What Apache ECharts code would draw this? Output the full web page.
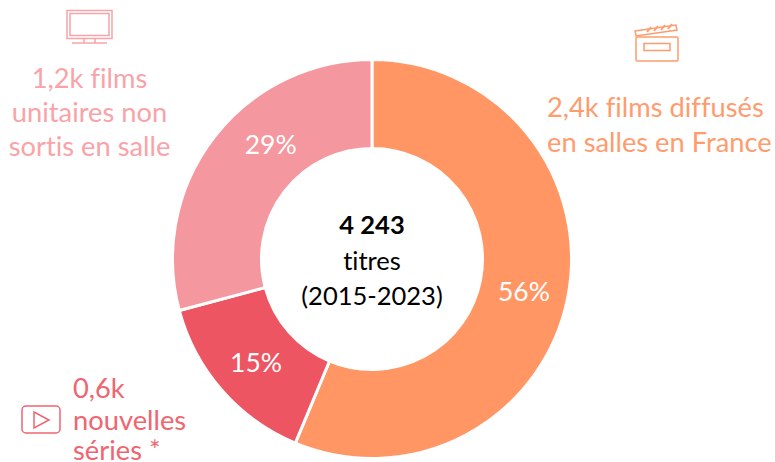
<!DOCTYPE html>
<html><head><meta charset="utf-8">
<script src="https://cdn.jsdelivr.net/npm/echarts@6/dist/echarts.min.js"></script>
<style>html,body{margin:0;padding:0;background:#fff}#c{width:775px;height:462px}#c text{font-variant-ligatures:none !important}</style></head>
<body><div id="c"></div>
<script>
const categories = ['films diffusés en salles en France', 'nouvelles séries', 'films unitaires non sortis en salle'];
const titles = [2388, 618, 1237];
const colors = ['#FF9664', '#EC5561', '#F4979E'];
const labelOffsets = [[-3, 1], [3, -1], [24, -19]];
const FONT = 'Lato, "Open Sans", sans-serif';
const chart = echarts.init(document.getElementById('c'), null, {renderer: 'svg'});

function txt(x, y, text, fill, size, extra) {
  return {type: 'text', x, y, silent: true, style: Object.assign({text, fill, font: `${size}px ${FONT}`, textAlign: 'center', textVerticalAlign: 'middle'}, extra || {})};
}
function rect(x, y, w, h, stroke, lw, r) {
  return {type: 'rect', shape: {x, y, width: w, height: h, r: r || 0}, style: {fill: 'none', stroke, lineWidth: lw}};
}
function line(x1, y1, x2, y2, stroke, lw) {
  return {type: 'line', shape: {x1, y1, x2, y2}, style: {stroke, lineWidth: lw}};
}
const pink = '#F9A3A8', orange = '#FF9C6E', red = '#EF6570';
const stripes = [[647,27],[654,26],[661,25],[668,24]].map(p => line(p[0], p[1] + 5, p[0] + 4, p[1], orange, 2));
const SIDE = 27.3, MID = 25.5;
const left = {textAlign: 'left'};

chart.setOption({
  animation: false,
  backgroundColor: '#fff',
  series: [{
    type: 'pie',
    center: [372, 259],
    radius: [110.5, 199.5],
    startAngle: 90,
    clockwise: true,
    silent: true,
    itemStyle: {borderColor: '#fff', borderWidth: 3},
    label: {position: 'inside', color: '#fff', fontFamily: FONT, fontSize: 26.5, formatter: p => Math.round(p.percent) + '%'},
    labelLine: {show: false},
    emphasis: {disabled: true},
    data: categories.map((name, i) => ({name, value: titles[i], itemStyle: {color: colors[i]}, label: {offset: labelOffsets[i]}}))
  }],
  graphic: [
    txt(372, 224, '4 243', '#000', MID, {font: `bold ${MID}px ${FONT}`}),
    txt(372, 260, 'titres', '#000', MID),
    txt(372, 295, '(2015-2023)', '#000', MID),
    txt(89.5, 77, '1,2k films', pink, SIDE),
    txt(89.5, 111, 'unitaires non', pink, SIDE),
    txt(89.5, 145, 'sortis en salle', pink, SIDE),
    txt(547, 106, '2,4k films diffusés', orange, SIDE, left),
    txt(547, 141, 'en salles en France', orange, SIDE, left),
    txt(73, 387, '0,6k', red, SIDE, left),
    txt(73, 419, 'nouvelles', red, SIDE, left),
    txt(73, 449, 'séries *', red, SIDE, left),
    rect(67, 10.5, 45, 28, pink, 1.5), rect(70, 13.5, 39, 22, pink, 1.5),
    line(84, 38, 84, 43, pink, 1.5), line(95, 38, 95, 43, pink, 1.5), line(72, 43, 107, 43, pink, 1.5),
    rect(636, 37, 42, 24, orange, 1.5, 1.5), rect(644, 43.5, 26, 7, orange, 1.5),
    {type: 'polygon', shape: {points: [[635,31],[676,25],[677,30],[636,36]]}, style: {fill: 'none', stroke: orange, lineWidth: 1.5}},
    ...stripes,
    rect(22, 406, 38, 27, red, 1.5, 4),
    {type: 'polygon', shape: {points: [[34,412],[49,420],[34,428]]}, style: {fill: 'none', stroke: red, lineWidth: 1.5}}
  ]
});
</script></body></html>
